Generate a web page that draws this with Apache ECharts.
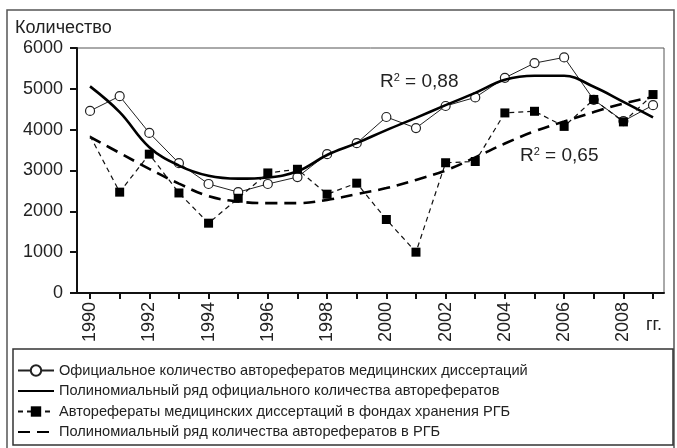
<!DOCTYPE html>
<html>
<head>
<meta charset="utf-8">
<script src="https://cdn.jsdelivr.net/npm/echarts@6/dist/echarts.min.js"></script>
<style>
html, body { margin: 0; padding: 0; background: #fff; }
#chart { width: 677px; height: 448px; }
</style>
</head>
<body>
<div id="chart"></div>
<script>
var years = [1990, 1991, 1992, 1993, 1994, 1995, 1996, 1997, 1998, 1999,
	2000, 2001, 2002, 2003, 2004, 2005, 2006, 2007, 2008, 2009];
// официальное количество авторефератов
var official = [4460, 4820, 3920, 3180, 2670, 2470, 2670, 2840, 3400, 3670,
	4310, 4040, 4580, 4790, 5270, 5630, 5770, 4730, 4210, 4600];
var officialTrend = [5060, 4430, 3570, 3120, 2870, 2800, 2830, 2980, 3380, 3670,
	3990, 4290, 4600, 4900, 5220, 5320, 5320, 5050, 4680, 4300];
// фонды РГБ
var rgb = [3850, 2470, 3400, 2450, 1710, 2320, 2940, 3030, 2420, 2690,
	1800, 1000, 3190, 3220, 4410, 4450, 4080, 4740, 4190, 4860];
var rgbTrend = [3820, 3430, 3040, 2680, 2370, 2240, 2200, 2200, 2280, 2420,
	2570, 2770, 3000, 3320, 3660, 3960, 4200, 4430, 4640, 4800];
var yearLabels = [1990, 1992, 1994, 1996, 1998, 2000, 2002, 2004, 2006, 2008];
var seriesNames = [
	'Официальное количество авторефератов медицинских диссертаций',
	'Полиномиальный ряд официального количества авторефератов',
	'Авторефераты медицинских диссертаций в фондах хранения РГБ',
	'Полиномиальный ряд количества авторефератов в РГБ'
];

function pairs(vals) {
	return years.map(function (y, i) { return [y, vals[i]]; });
}

var font = '"Liberation Sans", Arial, sans-serif';

var chart = echarts.init(document.getElementById('chart'));
var rgbData = pairs(rgb);
rgbData[0] = { value: rgbData[0], symbol: 'none' };

var option = {
	backgroundColor: '#fff',
	animation: false,
	grid: {
		left: 77, top: 48, right: 13, bottom: 155,
		show: true, borderColor: '#555', borderWidth: 1
	},
	xAxis: {
		type: 'value',
		min: 1989.56,
		max: 2009.37,
		splitLine: { show: false },
		axisLine: { lineStyle: { color: '#111', width: 2 } },
		axisTick: { length: 6, lineStyle: { color: '#111', width: 2 }, customValues: years },
		axisLabel: {
			rotate: 90, margin: 9, color: '#222', fontSize: 18, fontFamily: font,
			customValues: yearLabels,
			formatter: function (v) { return String(v); }
		}
	},
	yAxis: {
		type: 'value',
		min: 0, max: 6000, interval: 1000,
		splitLine: { show: false },
		axisLine: { show: true, lineStyle: { color: '#111', width: 2 } },
		axisTick: { show: true, length: 7, lineStyle: { color: '#111', width: 2 } },
		axisLabel: {
			margin: 14, color: '#222', fontSize: 18, fontFamily: font,
			formatter: function (v) { return String(v); }
		}
	},
	legend: {
		orient: 'vertical',
		left: 17, top: 363,
		padding: 0,
		itemWidth: 36, itemHeight: 13, itemGap: 5.5,
		textStyle: { fontSize: 14.6, fontFamily: font, color: '#222', lineHeight: 13 },
		data: [
			seriesNames[0],
			{ name: seriesNames[1], itemStyle: { opacity: 0 } },
			seriesNames[2],
			{ name: seriesNames[3], itemStyle: { opacity: 0 } }
		]
	},
	graphic: [
		{ type: 'rect', shape: { x: 7, y: 10, width: 667, height: 445 }, silent: true, z: -10,
			style: { fill: 'none', stroke: '#555', lineWidth: 1.5 } },
		{ type: 'rect', shape: { x: 13, y: 349, width: 660, height: 96 }, silent: true,
			style: { fill: 'none', stroke: '#333', lineWidth: 1.5 } },
		{ type: 'text', left: 15, top: 19,
			style: { text: 'Количество', fontSize: 18, fontFamily: font, fill: '#222' } },
		{ type: 'text', left: 646, top: 316,
			style: { text: 'гг.', fontSize: 18, fontFamily: font, fill: '#222' } },
		{ type: 'text', left: 380, top: 72,
			style: {
				text: 'R{s|2} = 0,88', fontSize: 19, fontFamily: font, fill: '#222',
				rich: { s: { fontSize: 11, fontFamily: font, fill: '#222', verticalAlign: 'top', padding: [0, 0, 8, 0] } }
			} },
		{ type: 'text', left: 520, top: 146,
			style: {
				text: 'R{s|2} = 0,65', fontSize: 19, fontFamily: font, fill: '#222',
				rich: { s: { fontSize: 11, fontFamily: font, fill: '#222', verticalAlign: 'top', padding: [0, 0, 8, 0] } }
			} }
	],
	series: [{
		name: seriesNames[0],
		type: 'line',
		data: pairs(official),
		symbol: 'circle',
		symbolSize: 9,
		lineStyle: { color: '#222', width: 1 },
		itemStyle: { color: '#fff', borderColor: '#222', borderWidth: 1.2 },
		z: 2
	}, {
		name: seriesNames[1],
		type: 'line',
		data: pairs(officialTrend),
		smooth: 0.4,
		symbol: 'none',
		lineStyle: { color: '#000', width: 2.6 },
		itemStyle: { color: '#000' },
		z: 3
	}, {
		name: seriesNames[2],
		type: 'line',
		data: rgbData,
		symbol: 'rect',
		symbolSize: 9,
		lineStyle: { color: '#111', width: 1.2, type: [5, 4] },
		itemStyle: { color: '#000' },
		z: 4
	}, {
		name: seriesNames[3],
		type: 'line',
		data: pairs(rgbTrend),
		smooth: 0.4,
		symbol: 'none',
		lineStyle: { color: '#000', width: 2.6, type: [12, 7] },
		itemStyle: { color: '#000' },
		z: 3
	}]
};
chart.setOption(option);
</script>
</body>
</html>
